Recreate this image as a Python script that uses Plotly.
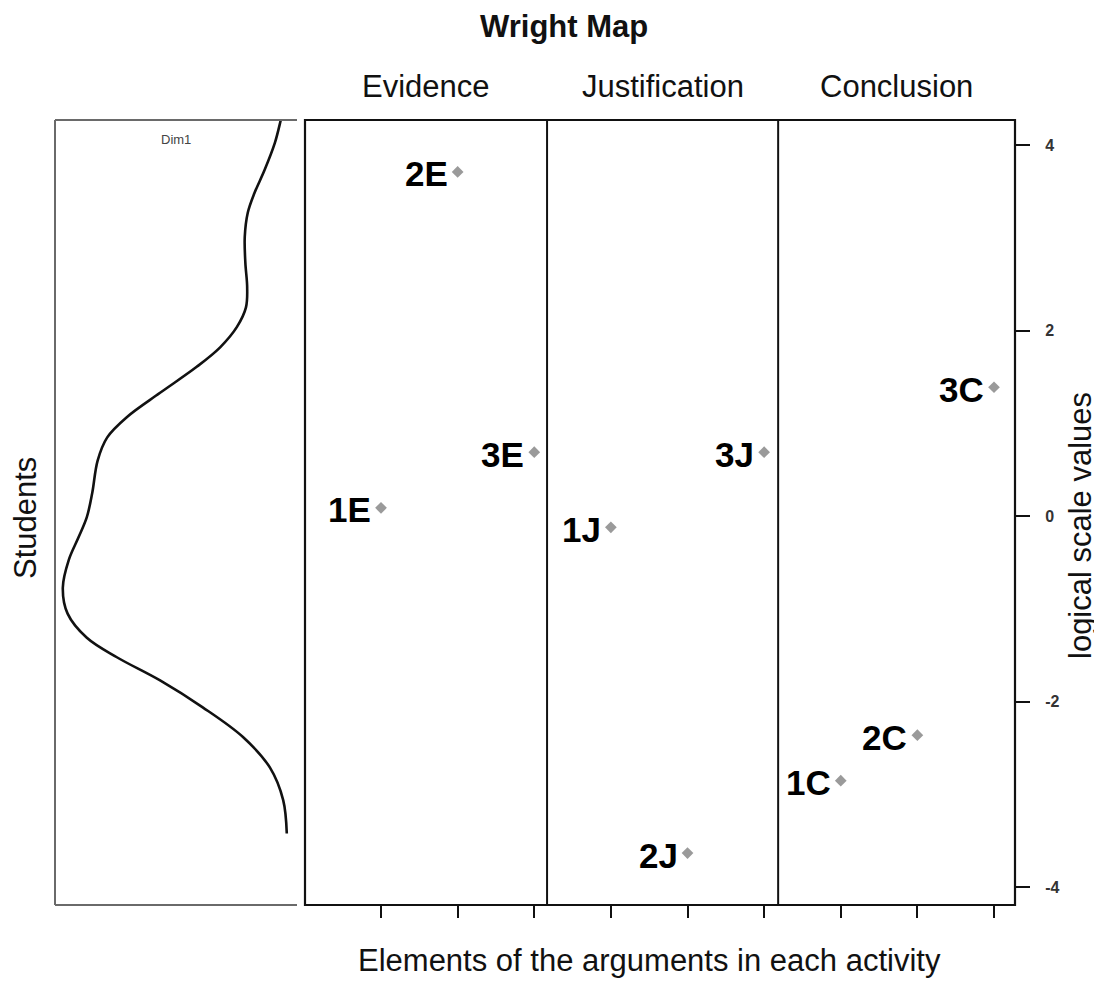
import plotly.graph_objects as go

# ---------------- data ----------------
item_labels = ["1E", "2E", "3E", "1J", "2J", "3J", "1C", "2C", "3C"]
item_pos = [1, 2, 3, 4, 5, 6, 7, 8, 9]
item_values = [0.09, 3.71, 0.69, -0.12, -3.63, 0.69, -2.85, -2.36, 1.39]

panel_titles = ["Evidence", "Justification", "Conclusion"]

# student ability density (logit, density)
dens_theta = [4.38, 4.27, 4.02, 3.73, 3.48, 3.27, 3.01, 2.73, 2.47, 2.25, 2.04,
              1.82, 1.61, 1.33, 1.07, 0.85, 0.60, 0.25, -0.01, -0.23, -0.47,
              -0.77, -1.05, -1.31, -1.52, -1.77, -2.06, -2.38, -2.71, -3.06, -3.42]
dens_value = [0.023, 0.027, 0.037, 0.054, 0.071, 0.082, 0.087, 0.086, 0.083, 0.085,
              0.100, 0.128, 0.167, 0.228, 0.283, 0.316, 0.332, 0.341, 0.350, 0.364,
              0.380, 0.390, 0.382, 0.350, 0.300, 0.228, 0.157, 0.090, 0.045, 0.023,
              0.017]

y_ticks = [-4, -2, 0, 2, 4]
y_tick_text = ["-4", "-2", "0", "2", "4"]

# ---------------- layout constants ----------------
OFF = 8  # page body margin
W, H = 1102 - OFF, 981 - OFF
FONT = "Liberation Sans, Arial, sans-serif"
y_range = [-4.19, 4.27]
x2_range = [0.008, 9.274]
dividers = [3.167, 6.183]


def px_x(p):
    return (p - OFF) / W


def px_y(p):
    return 1 - (p - OFF) / H


fig = go.Figure()

fig.add_trace(go.Scatter(
    x=dens_value, y=dens_theta, mode="lines",
    line=dict(color="#111111", width=2.6, shape="spline", smoothing=1.0),
    xaxis="x", yaxis="y", hoverinfo="skip", showlegend=False))

fig.add_trace(go.Scatter(
    x=item_pos, y=item_values, mode="markers",
    marker=dict(symbol="diamond", size=9, color="#9a9a9a"),
    xaxis="x2", yaxis="y2", showlegend=False))

annotations = []
for xp, v, lab in zip(item_pos, item_values, item_labels):
    annotations.append(dict(
        x=xp, y=v, xref="x2", yref="y2", text=lab, showarrow=False,
        xanchor="right", yanchor="middle", xshift=-8, yshift=-2,
        font=dict(family=FONT, size=35, color="#000000", weight="bold")))

# panel titles centred in each segment
seg_edges = [x2_range[0]] + dividers + [x2_range[1]]
for i, t in enumerate(panel_titles):
    annotations.append(dict(
        x=(seg_edges[i] + seg_edges[i + 1]) / 2, y=px_y(86), xref="x2", yref="paper",
        text=t, showarrow=False, xanchor="center", yanchor="middle",
        font=dict(family=FONT, size=31, color="#111111")))

annotations += [
    dict(x=px_x(564), y=px_y(27), xref="paper", yref="paper", text="Wright Map",
         showarrow=False, xanchor="center", yanchor="middle",
         font=dict(family=FONT, size=31, color="#111111", weight="bold")),
    dict(x=px_x(649), y=px_y(960), xref="paper", yref="paper",
         text="Elements of the arguments in each activity", showarrow=False,
         xanchor="center", yanchor="middle",
         font=dict(family=FONT, size=31, color="#111111")),
    dict(x=px_x(25), y=px_y(518), xref="paper", yref="paper", text="Students",
         showarrow=False, textangle=-90, xanchor="center", yanchor="middle",
         font=dict(family=FONT, size=31, color="#111111")),
    dict(x=px_x(1080), y=px_y(526), xref="paper", yref="paper",
         text="logical scale values", showarrow=False, textangle=-90,
         xanchor="center", yanchor="middle",
         font=dict(family=FONT, size=31, color="#111111")),
    dict(x=0.5, y=px_y(140), xref="x domain", yref="paper", text="Dim1",
         showarrow=False, xanchor="center", yanchor="middle",
         font=dict(family=FONT, size=13, color="#444444")),
]

shapes = []
# left panel frame: left, top, bottom
for (x0, y0, x1, y1) in [(0, 0, 0, 1), (0, 1, 1, 1), (0, 0, 1, 0)]:
    shapes.append(dict(type="line", xref="x domain", yref="y domain",
                       x0=x0, y0=y0, x1=x1, y1=y1,
                       line=dict(color="#6a6a6a", width=2)))
# right panel box
shapes.append(dict(type="rect", xref="x2 domain", yref="y2 domain",
                   x0=0, y0=0, x1=1, y1=1, line=dict(color="#111111", width=2.2)))
for d in dividers:
    shapes.append(dict(type="line", xref="x2", yref="y2 domain",
                       x0=d, x1=d, y0=0, y1=1,
                       line=dict(color="#111111", width=2)))

dom_y = [px_y(905), px_y(120)]

fig.update_layout(
    width=W, height=H,
    margin=dict(l=0, r=0, t=0, b=0),
    paper_bgcolor="white", plot_bgcolor="white",
    showlegend=False,
    xaxis=dict(domain=[px_x(55), px_x(297)], range=[0.403, 0.0],
               showgrid=False, zeroline=False, showticklabels=False,
               ticks="", showline=False),
    yaxis=dict(domain=dom_y, range=y_range, showgrid=False, zeroline=False,
               showticklabels=False, ticks="", showline=False),
    xaxis2=dict(domain=[px_x(305), px_x(1015)], range=x2_range, anchor="y2",
                showgrid=False, zeroline=False, showticklabels=False,
                ticks="outside", tickvals=item_pos, ticklen=12, tickwidth=1.5,
                tickcolor="#111111", showline=False),
    yaxis2=dict(domain=dom_y, range=y_range, anchor="x2", side="right",
                showgrid=False, zeroline=False, tickvals=y_ticks,
                ticktext=y_tick_text,
                ticks="outside", ticklen=14, tickwidth=1.5, tickcolor="#111111",
                ticklabelstandoff=12,
                tickfont=dict(family=FONT, size=16, color="#333333", weight="bold"),
                showline=False),
    annotations=annotations,
    shapes=shapes,
)

fig.write_html("out.html")
